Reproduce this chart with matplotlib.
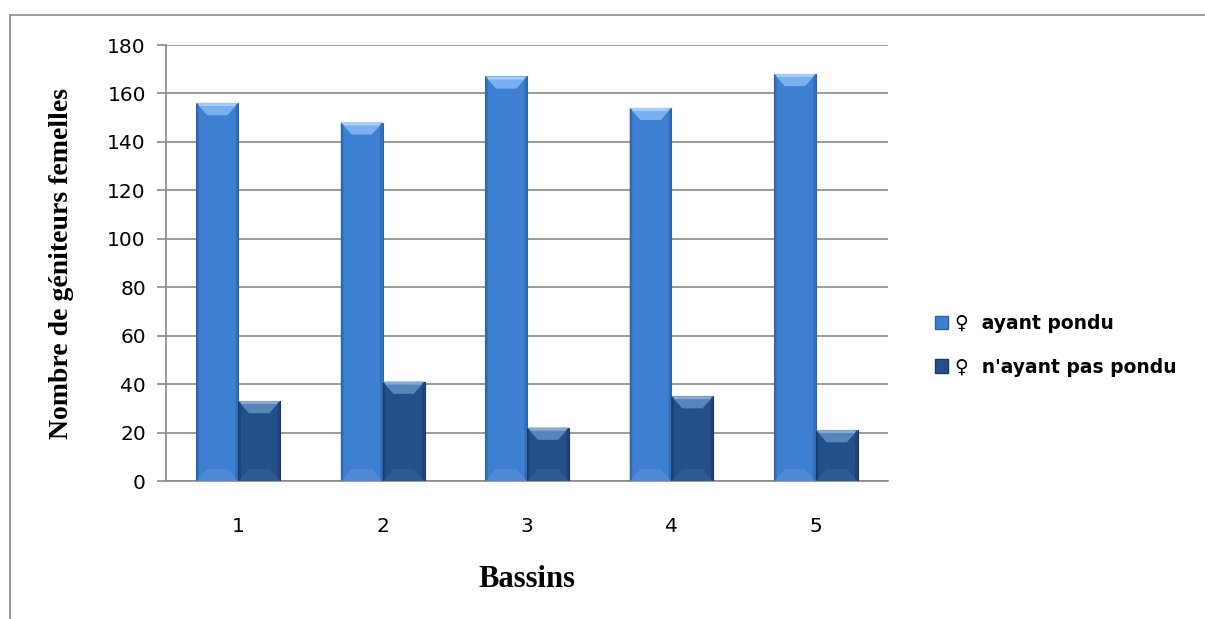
import numpy as np
import matplotlib
matplotlib.use('Agg')
from matplotlib import pyplot as plt
from matplotlib.patches import Polygon, Rectangle
from matplotlib.lines import Line2D

# nombre de femelles par bassin
bassins = ['1', '2', '3', '4', '5']
ayant_pondu = [156, 148, 167, 154, 168]
pas_pondu = [33, 41, 22, 35, 21]
noms = ['\u2640  ayant pondu', "\u2640  n'ayant pas pondu"]

# couleurs : corps, face haute, face basse, bord
clr_clair = ('#3d7fd1', '#79b1ee', '#4f8ad6', '#2b64ad')
clr_fonce = ('#24508a', '#5a83b8', '#2f5a92', '#193a66')

W = 0.29          # largeur d'une barre (unite categorie)
BX, BY = 0.075, 5  # profondeur du biseau


def draw_bar(ax, x0, h, clr):
    body, top, bot, edge = clr
    ax.add_patch(Rectangle((x0, 0), W, h, facecolor=body, edgecolor=edge, lw=0.8, zorder=3))
    # face haute (trapeze clair)
    ax.add_patch(Polygon([(x0, h), (x0 + W, h), (x0 + W - BX, h - BY), (x0 + BX, h - BY)],
                         closed=True, facecolor=top, edgecolor='none', zorder=4))
    ax.add_patch(Polygon([(x0, h), (x0 + W, h), (x0 + W - 0.02, h - 1.2), (x0 + 0.02, h - 1.2)],
                         closed=True, facecolor='#a9cdf5' if clr is clr_clair else '#8aa8d0',
                         edgecolor='none', zorder=4))
    # face basse
    ax.add_patch(Polygon([(x0, 0), (x0 + W, 0), (x0 + W - BX, BY), (x0 + BX, BY)],
                         closed=True, facecolor=bot, edgecolor='none', zorder=4))
    # cotes plus sombres
    ax.add_patch(Polygon([(x0, 0), (x0 + 0.018, 0.6), (x0 + 0.018, h - 0.6), (x0, h)],
                         closed=True, facecolor=edge, edgecolor='none', alpha=0.6, zorder=4))
    ax.add_patch(Polygon([(x0 + W, 0), (x0 + W - 0.018, 0.6), (x0 + W - 0.018, h - 0.6), (x0 + W, h)],
                         closed=True, facecolor=edge, edgecolor='none', alpha=0.6, zorder=4))


fig = plt.figure(figsize=(12.05, 6.19), dpi=100)
ax = fig.add_axes([0.1378, 0.2229, 0.5992, 0.7044])

x = np.arange(len(bassins))
for i in range(len(bassins)):
    draw_bar(ax, x[i] - W, ayant_pondu[i], clr_clair)
    draw_bar(ax, x[i], pas_pondu[i], clr_fonce)

ax.set_xlim(-0.5, len(bassins) - 0.5)
ax.set_ylim(0, 180)
ax.set_yticks(range(0, 181, 20))
ax.set_xticks(x)
ax.set_xticklabels(bassins)
ax.yaxis.grid(True, color='#8a8a8a', lw=1.2)
ax.set_axisbelow(True)
for s in ['top', 'right']:
    ax.spines[s].set_visible(False)
for s in ['left', 'bottom']:
    ax.spines[s].set_color('#8a8a8a')
    ax.spines[s].set_linewidth(1.2)
ax.tick_params(axis='y', length=6.5, width=1.2, color='#8a8a8a', labelsize=14.5, pad=8)
ax.tick_params(axis='x', length=0, labelsize=14.5, pad=26)
for lab in ax.get_xticklabels() + ax.get_yticklabels():
    lab.set_family(['DejaVu Sans'])

ax.set_ylabel('Nombre de géniteurs femelles', family='Liberation Serif', fontweight='bold',
              fontsize=20, labelpad=24)
ax.set_xlabel('Bassins', family='Liberation Serif', fontweight='bold', fontsize=22, labelpad=21)

handles = [Rectangle((0, 0), 1, 1, facecolor=clr_clair[0], edgecolor=clr_clair[3]),
           Rectangle((0, 0), 1, 1, facecolor=clr_fonce[0], edgecolor=clr_fonce[3])]
leg = fig.legend(handles, noms, loc='center left', bbox_to_anchor=(0.762, 0.442),
                 frameon=False, handlelength=0.7, handleheight=0.7, handletextpad=0.35,
                 labelspacing=1.3, prop={'family': ['DejaVu Sans'], 'weight': 'bold', 'size': 13.5})

# cadre exterieur
fig.add_artist(Line2D([0.0083, 1.0], [0.976, 0.976], color='#8a8a8a', lw=1.2))
fig.add_artist(Line2D([0.0083, 0.0083], [0.0, 0.976], color='#8a8a8a', lw=1.2))

fig.savefig('out.png', dpi=100)
